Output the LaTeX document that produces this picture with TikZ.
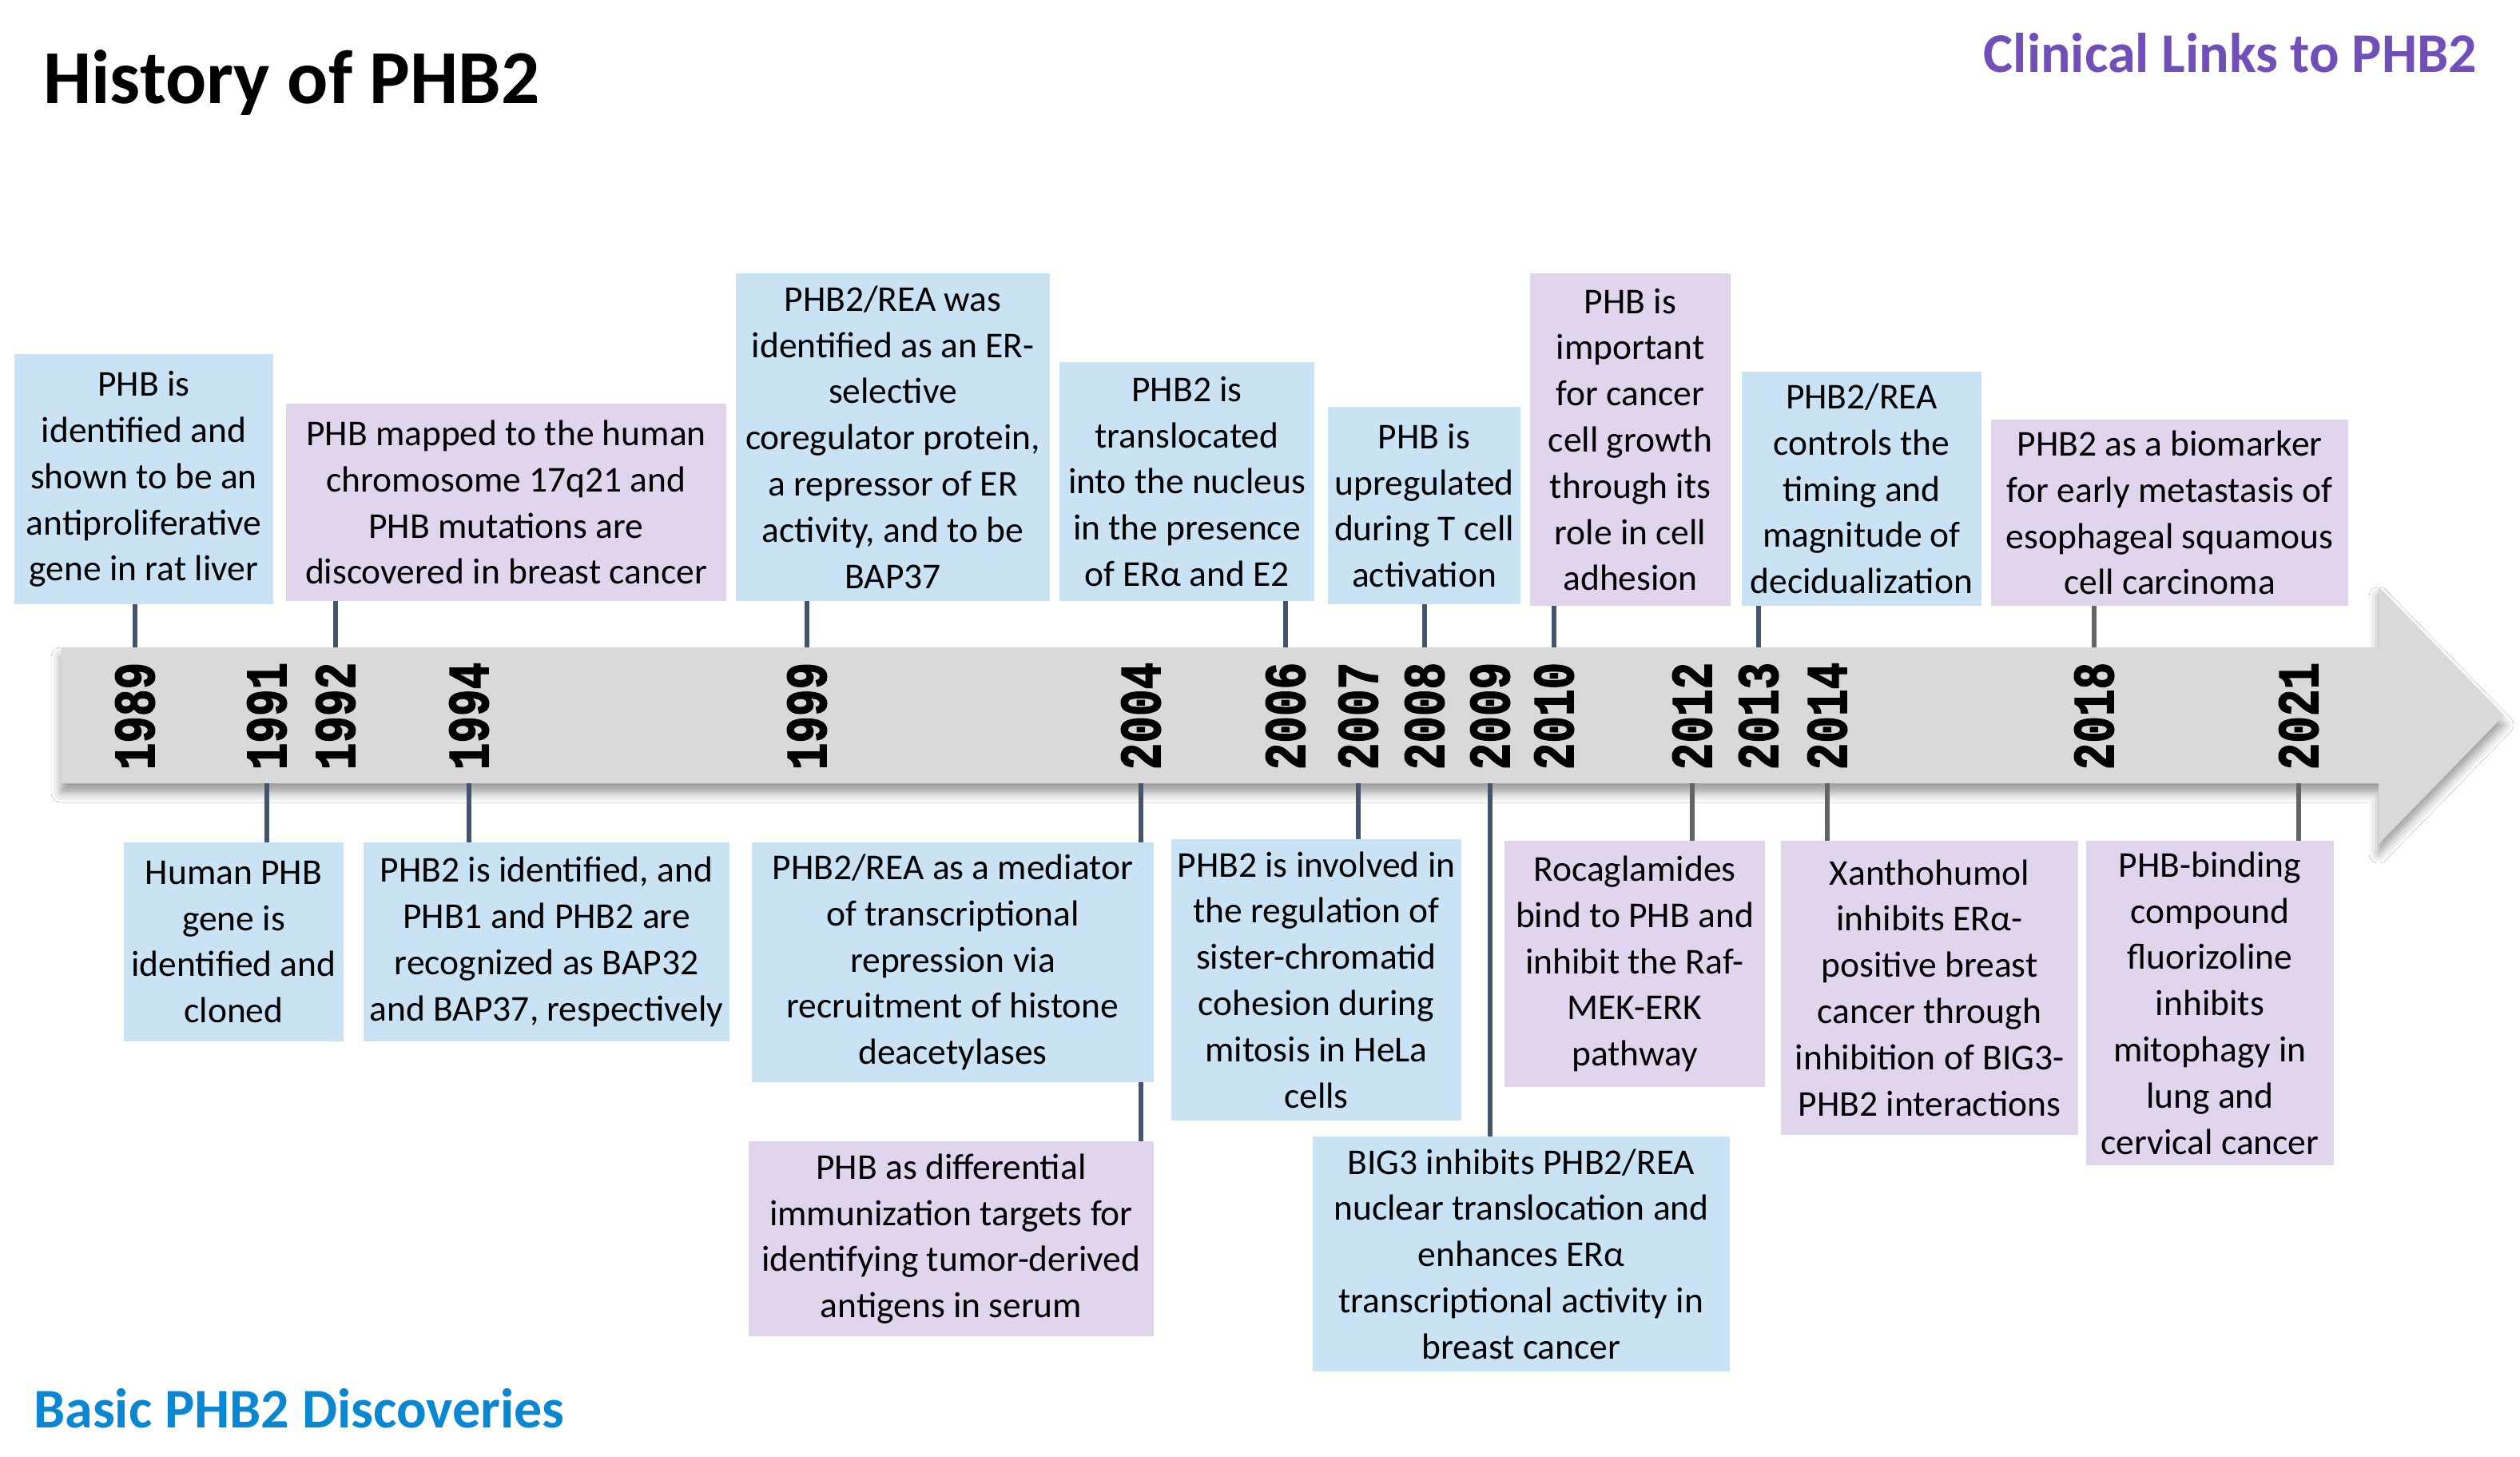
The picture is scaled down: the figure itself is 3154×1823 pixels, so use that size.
\documentclass[tikz,border=0pt]{standalone}
\usepackage{fontspec}
\usepackage{graphicx}
\setmainfont{Carlito}
\newfontfamily\yearfont{Liberation Mono}[BoldFeatures={FakeBold=2.2}]
\usetikzlibrary{shadows.blur}
\definecolor{boxblue}{RGB}{201,227,245}
\definecolor{boxpurp}{RGB}{224,213,236}
\definecolor{arrowgray}{RGB}{217,217,217}
\definecolor{slate}{RGB}{68,84,106}
\definecolor{connmid}{RGB}{100,100,100}
\definecolor{titlepurp}{RGB}{112,80,184}
\definecolor{titleblue}{RGB}{10,135,210}
\newcommand{\yr}[1]{\scalebox{1}[1.3]{#1}}
\tikzset{
  evbox/.style={rectangle, inner sep=0pt, align=center,
    font=\fontsize{45.5}{57.8}\selectfont, text=black},
  bluebox/.style={evbox, fill=boxblue},
  purpbox/.style={evbox, fill=boxpurp},
  conn/.style={draw=slate, line width=6pt},
  conngray/.style={draw=connmid, line width=6pt},
  yearlbl/.style={rotate=90, inner sep=0pt, font=\yearfont\bfseries\fontsize{56}{56}\selectfont, text=black},
}
\begin{document}
\begin{tikzpicture}[x=1pt,y=-1pt]
\useasboundingbox[fill=white] (0,0) rectangle (3154,1823);

% titles
\node[anchor=base west, inner sep=0pt, font=\bfseries\fontsize{95.5}{95.5}\selectfont] (title) at (54,129) {History of PHB2};
\node[anchor=base east, inner sep=0pt, font=\bfseries\fontsize{70}{70}\selectfont, text=titlepurp] (clin) at (3100,90) {Clinical Links to PHB2};
\node[anchor=base west, inner sep=0pt, font=\bfseries\fontsize{70}{70}\selectfont, text=titleblue] (basic) at (42,1786) {Basic PHB2 Discoveries};

% timeline arrow
\fill[arrowgray, blur shadow={shadow xshift=0pt, shadow yshift=-12pt, shadow blur radius=12pt, shadow opacity=40}]
  (76,810) -- (2977,810) -- (2977,734) -- (3134,895) -- (2977,1056) -- (2977,980) -- (76,980) -- cycle;
\coordinate (bartop) at (0,810);
\coordinate (barbot) at (0,980);

% years
\node[yearlbl] (y1989) at (169,896) {\yr{1989}};
\node[yearlbl] (y1991) at (334,896) {\yr{1991}};
\node[yearlbl] (y1992) at (420,896) {\yr{1992}};
\node[yearlbl] (y1994) at (587,896) {\yr{1994}};
\node[yearlbl] (y1999) at (1010,896) {\yr{1999}};
\node[yearlbl] (y2004) at (1428,896) {\yr{2004}};
\node[yearlbl] (y2006) at (1609,896) {\yr{2006}};
\node[yearlbl] (y2007) at (1700,896) {\yr{2007}};
\node[yearlbl] (y2008) at (1783,896) {\yr{2008}};
\node[yearlbl] (y2009) at (1865,896) {\yr{2009}};
\node[yearlbl] (y2010) at (1945,896) {\yr{2010}};
\node[yearlbl] (y2012) at (2118,896) {\yr{2012}};
\node[yearlbl] (y2013) at (2201,896) {\yr{2013}};
\node[yearlbl] (y2014) at (2287,896) {\yr{2014}};
\node[yearlbl] (y2018) at (2621,896) {\yr{2018}};
\node[yearlbl] (y2021) at (2877,896) {\yr{2021}};

% top boxes
\node[bluebox, minimum width=324pt, minimum height=313pt] (t1) at (180,599.5)
  {PHB is\\identified and\\shown to be an\\antiproliferative\\gene in rat liver};
\node[purpbox, minimum width=551pt, minimum height=247pt] (t2) at (633.5,628.5)
  {PHB mapped to the human\\chromosome 17q21 and\\PHB mutations are\\discovered in breast cancer};
\node[bluebox, minimum width=393pt, minimum height=410pt] (t3) at (1117.5,547)
  {PHB2/REA was\\identified as an ER-\\selective\\coregulator protein,\\a repressor of ER\\activity, and to be\\BAP37};
\node[bluebox, minimum width=319pt, minimum height=299pt] (t4) at (1485.5,602.5)
  {PHB2 is\\translocated\\into the nucleus\\in the presence\\of ERα and E2};
\node[bluebox, minimum width=241pt, minimum height=247pt] (t5) at (1782.5,632.5)
  {PHB is\\upregulated\\during T cell\\activation};
\node[purpbox, minimum width=251pt, minimum height=416pt] (t6) at (2040.5,550)
  {PHB is\\important\\for cancer\\cell growth\\through its\\role in cell\\adhesion};
\node[bluebox, minimum width=300pt, minimum height=293pt] (t7) at (2330,611.5)
  {PHB2/REA\\controls the\\timing and\\magnitude of\\decidualization};
\node[purpbox, minimum width=447pt, minimum height=233pt] (t8) at (2715.5,641.5)
  {PHB2 as a biomarker\\for early metastasis of\\esophageal squamous\\cell carcinoma};

% bottom boxes
\node[bluebox, minimum width=275pt, minimum height=249pt] (b1) at (292.5,1178.5)
  {Human PHB\\gene is\\identified and\\cloned};
\node[bluebox, minimum width=458pt, minimum height=249pt] (b2) at (684,1178.5)
  {PHB2 is identified, and\\PHB1 and PHB2 are\\recognized as BAP32\\and BAP37, respectively};
\node[bluebox, minimum width=503pt, minimum height=300pt] (b3) at (1192.5,1204)
  {PHB2/REA as a mediator\\of transcriptional\\repression via\\recruitment of histone\\deacetylases};
\node[purpbox, minimum width=507pt, minimum height=244pt] (b4) at (1190.5,1550)
  {PHB as differential\\immunization targets for\\identifying tumor-derived\\antigens in serum};
\node[bluebox, minimum width=363pt, minimum height=352pt] (b5) at (1647.5,1226)
  {PHB2 is involved in\\the regulation of\\sister-chromatid\\cohesion during\\mitosis in HeLa\\cells};
\node[bluebox, minimum width=522pt, minimum height=294pt] (b6) at (1904,1569)
  {BIG3 inhibits PHB2/REA\\nuclear translocation and\\enhances ERα\\transcriptional activity in\\breast cancer};
\node[purpbox, minimum width=326pt, minimum height=308pt] (b7) at (2046,1206)
  {Rocaglamides\\bind to PHB and\\inhibit the Raf-\\MEK-ERK\\pathway};
\node[purpbox, minimum width=372pt, minimum height=368pt] (b8) at (2415,1236)
  {Xanthohumol\\inhibits ERα-\\positive breast\\cancer through\\inhibition of BIG3-\\PHB2 interactions};
\node[purpbox, minimum width=310pt, minimum height=406pt] (b9) at (2766,1255)
  {PHB-binding\\compound\\fluorizoline\\inhibits\\mitophagy in\\lung and\\cervical cancer};

% connectors top
\draw[conn] (t1.south -| y1989) -- (y1989 |- bartop);
\draw[conn] (t2.south -| y1992) -- (y1992 |- bartop);
\draw[conn] (t3.south -| y1999) -- (y1999 |- bartop);
\draw[conn] (t4.south -| y2006) -- (y2006 |- bartop);
\draw[conn] (t5.south -| y2008) -- (y2008 |- bartop);
\draw[conn] (t6.south -| y2010) -- (y2010 |- bartop);
\draw[conn] (t7.south -| y2013) -- (y2013 |- bartop);
\draw[conngray] (t8.south -| y2018) -- (y2018 |- bartop);

% connectors bottom
\draw[conn] (y1991 |- barbot) -- (b1.north -| y1991);
\draw[conn] (y1994 |- barbot) -- (b2.north -| y1994);
\draw[conn] (y2004 |- barbot) -- (b3.north -| y2004);
\draw[conn] (b3.south -| y2004) -- (b4.north -| y2004);
\draw[conn] (y2007 |- barbot) -- (b5.north -| y2007);
\draw[conn] (y2009 |- barbot) -- (b6.north -| y2009);
\draw[conngray] (y2012 |- barbot) -- (b7.north -| y2012);
\draw[conngray] (y2014 |- barbot) -- (b8.north -| y2014);
\draw[conngray] (y2021 |- barbot) -- (b9.north -| y2021);
\end{tikzpicture}
\end{document}
